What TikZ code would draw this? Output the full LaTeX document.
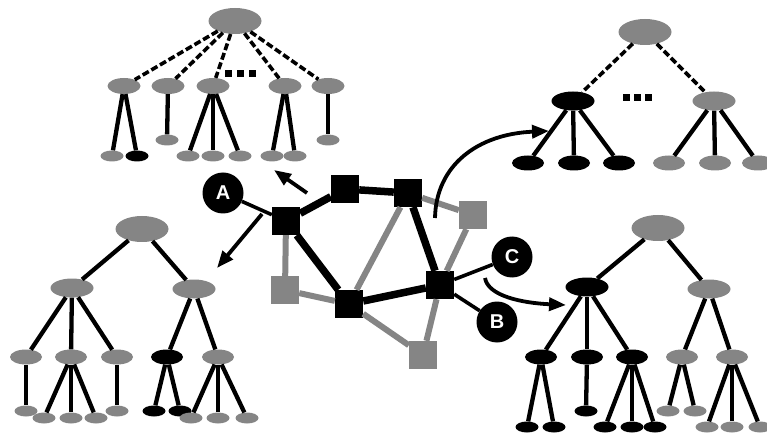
\documentclass[tikz,border=0pt]{standalone}
\usepackage{fontspec}
\setmainfont{Liberation Sans}
\usetikzlibrary{shapes.geometric,arrows.meta}
\definecolor{halftone}{HTML}{858585}
\tikzset{
 gnode/.style={ellipse, fill=halftone, inner sep=0pt},
 bnode/.style={ellipse, fill=black, inner sep=0pt},
 rootsz/.style={minimum width=53pt, minimum height=26pt},
 midsz/.style={minimum width=43pt, minimum height=19pt},
 lowsz/.style={minimum width=32pt, minimum height=15pt},
 leafsz/.style={minimum width=23pt, minimum height=11pt},
 tlsz/.style={minimum width=33pt, minimum height=16pt},
 tleafsz/.style={minimum width=23pt, minimum height=11pt},
 tedge/.style={line width=4.3pt},
 dedge/.style={line width=3.6pt, dash pattern=on 7pt off 3pt},
 bsq/.style={rectangle, fill=black, minimum size=28pt, inner sep=0pt},
 gsq/.style={rectangle, fill=halftone, minimum size=28pt, inner sep=0pt},
 thickl/.style={line width=7.5pt},
 greyl/.style={line width=6pt, draw=halftone},
 thinl/.style={line width=3.6pt},
 lettercirc/.style={circle, fill=black, minimum size=41pt, inner sep=0pt, text=white, font=\fontsize{20}{20}\selectfont\bfseries},
 dotsq/.style={rectangle, fill=black, minimum size=7pt, inner sep=0pt},
 arr/.style={line width=3.8pt, -{Triangle[length=17pt,width=13pt]}},
}
\begin{document}
\begin{tikzpicture}[x=1pt,y=-1pt]
\useasboundingbox (0,0) rectangle (767,435);

% ---------- top-left tree ----------
\node[gnode,rootsz] (tlr) at (235,21) {};
\node[gnode,tlsz] (tla) at (124,86) {};
\node[gnode,tlsz] (tlb) at (168,86) {};
\node[gnode,tlsz] (tlc) at (213,86) {};
\node[gnode,tlsz] (tld) at (285,86) {};
\node[gnode,tlsz] (tle) at (328,86) {};
\node[gnode,tleafsz] (tla1) at (112,156) {};
\node[bnode,tleafsz] (tla2) at (137,156) {};
\node[gnode,tleafsz] (tlb1) at (167,140) {};
\node[gnode,tleafsz] (tlc1) at (188,156) {};
\node[gnode,tleafsz] (tlc2) at (213,156) {};
\node[gnode,tleafsz] (tlc3) at (240,156) {};
\node[gnode,tleafsz] (tld1) at (272,156) {};
\node[gnode,tleafsz] (tld2) at (295,156) {};
\node[gnode,tleafsz] (tle1) at (328,140) {};
\node[dotsq] (tldot1) at (228,74) {};
\node[dotsq] (tldot2) at (240,74) {};
\node[dotsq] (tldot3) at (252,74) {};
\foreach \c in {tla,tlb,tlc,tld,tle} \draw[dedge] (tlr) -- (\c);
\draw[tedge] (tla) -- (tla1);
\draw[tedge] (tla) -- (tla2);
\draw[tedge] (tlb) -- (tlb1);
\draw[tedge] (tlc) -- (tlc1);
\draw[tedge] (tlc) -- (tlc2);
\draw[tedge] (tlc) -- (tlc3);
\draw[tedge] (tld) -- (tld1);
\draw[tedge] (tld) -- (tld2);
\draw[tedge] (tle) -- (tle1);

% ---------- top-right tree ----------
\node[gnode,rootsz] (trr) at (645,32) {};
\node[bnode,midsz] (tra) at (573,101) {};
\node[gnode,midsz] (trb) at (714,101) {};
\node[bnode,lowsz] (tra1) at (528,163) {};
\node[bnode,lowsz] (tra2) at (574,163) {};
\node[bnode,lowsz] (tra3) at (619,163) {};
\node[gnode,lowsz] (trb1) at (669,163) {};
\node[gnode,lowsz] (trb2) at (715,163) {};
\node[gnode,lowsz] (trb3) at (758,163) {};
\node[dotsq] (trdot1) at (626,98) {};
\node[dotsq] (trdot2) at (637,98) {};
\node[dotsq] (trdot3) at (648,98) {};
\draw[dedge] (trr) -- (tra);
\draw[dedge] (trr) -- (trb);
\foreach \c in {tra1,tra2,tra3} \draw[tedge] (tra) -- (\c);
\foreach \c in {trb1,trb2,trb3} \draw[tedge] (trb) -- (\c);

% ---------- bottom-left tree ----------
\node[gnode,rootsz] (blr) at (142,229) {};
\node[gnode,midsz] (bla) at (72,288) {};
\node[gnode,midsz] (blb) at (194,289) {};
\node[gnode,lowsz] (bl1) at (26,357) {};
\node[gnode,lowsz] (bl2) at (71,357) {};
\node[gnode,lowsz] (bl3) at (117,357) {};
\node[bnode,lowsz] (bl4) at (167,357) {};
\node[gnode,lowsz] (bl5) at (218,357) {};
\node[gnode,leafsz] (bl1a) at (26,411) {};
\node[gnode,leafsz] (bl2a) at (44,418) {};
\node[gnode,leafsz] (bl2b) at (71,418) {};
\node[gnode,leafsz] (bl2c) at (96,418) {};
\node[gnode,leafsz] (bl3a) at (117,411) {};
\node[bnode,leafsz] (bl4a) at (154,411) {};
\node[bnode,leafsz] (bl4b) at (180,411) {};
\node[gnode,leafsz] (bl5a) at (191,418) {};
\node[gnode,leafsz] (bl5b) at (218,418) {};
\node[gnode,leafsz] (bl5c) at (247,418) {};
\draw[tedge] (blr) -- (bla);
\draw[tedge] (blr) -- (blb);
\foreach \c in {bl1,bl2,bl3} \draw[tedge] (bla) -- (\c);
\foreach \c in {bl4,bl5} \draw[tedge] (blb) -- (\c);
\draw[tedge] (bl1) -- (bl1a);
\foreach \c in {bl2a,bl2b,bl2c} \draw[tedge] (bl2) -- (\c);
\draw[tedge] (bl3) -- (bl3a);
\foreach \c in {bl4a,bl4b} \draw[tedge] (bl4) -- (\c);
\foreach \c in {bl5a,bl5b,bl5c} \draw[tedge] (bl5) -- (\c);

% ---------- bottom-right tree ----------
\node[gnode,rootsz] (brr) at (658,228) {};
\node[bnode,midsz] (bra) at (587,287) {};
\node[gnode,midsz] (brb) at (709,289) {};
\node[bnode,lowsz] (br1) at (541,357) {};
\node[bnode,lowsz] (br2) at (587,357) {};
\node[bnode,lowsz] (br3) at (632,357) {};
\node[gnode,lowsz] (br4) at (682,357) {};
\node[gnode,lowsz] (br5) at (732,357) {};
\node[bnode,leafsz] (br1a) at (527,427) {};
\node[bnode,leafsz] (br1b) at (554,427) {};
\node[bnode,leafsz] (br2a) at (586,411) {};
\node[bnode,leafsz] (br3a) at (605,427) {};
\node[bnode,leafsz] (br3b) at (632,427) {};
\node[bnode,leafsz] (br3c) at (655,427) {};
\node[gnode,leafsz] (br4a) at (668,411) {};
\node[gnode,leafsz] (br4b) at (695,411) {};
\node[gnode,leafsz] (br5a) at (707,427) {};
\node[gnode,leafsz] (br5b) at (732,427) {};
\node[gnode,leafsz] (br5c) at (760,427) {};
\draw[tedge] (brr) -- (bra);
\draw[tedge] (brr) -- (brb);
\foreach \c in {br1,br2,br3} \draw[tedge] (bra) -- (\c);
\foreach \c in {br4,br5} \draw[tedge] (brb) -- (\c);
\foreach \c in {br1a,br1b} \draw[tedge] (br1) -- (\c);
\draw[tedge] (br2) -- (br2a);
\foreach \c in {br3a,br3b,br3c} \draw[tedge] (br3) -- (\c);
\foreach \c in {br4a,br4b} \draw[tedge] (br4) -- (\c);
\foreach \c in {br5a,br5b,br5c} \draw[tedge] (br5) -- (\c);

% ---------- network ----------
\node[bsq] (n1) at (286,221) {};
\node[bsq] (n2) at (345,189) {};
\node[bsq] (n3) at (408,193) {};
\node[gsq] (g1) at (473,215) {};
\node[gsq] (g2) at (285,290) {};
\node[bsq] (n4) at (349,304) {};
\node[bsq] (n5) at (440,285) {};
\node[gsq] (g3) at (423,355) {};
\node[lettercirc] (A) at (223,193) {A};
\node[lettercirc] (C) at (512,257) {C};
\node[lettercirc] (B) at (497,322) {B};

\draw[greyl] (n3) -- (g1);
\draw[greyl] (n3) -- (n4);
\draw[greyl] (n1) -- (g2);
\draw[greyl] (g2) -- (n4);
\draw[greyl] (n4) -- (g3);
\draw[greyl] (n5) -- (g3);
\draw[greyl] (n5) -- (g1);
\draw[thickl] (n1) -- (n2);
\draw[thickl] (n2) -- (n3);
\draw[thickl] (n3) -- (n5);
\draw[thickl] (n1) -- (n4);
\draw[thickl] (n4) -- (n5);
\draw[thinl] (A) -- (n1);
\draw[thinl] (n5) -- (C);
\draw[thinl] (n5) -- (B);

% ---------- arrows ----------
\coordinate (a1s) at (262,214);
\coordinate (a1e) at (217,268);
\coordinate (a2s) at (307,193);
\coordinate (a2e) at (274,170);
\coordinate (a3s) at (435,218);
\coordinate (a3e) at (549,131);
\coordinate (a4s) at (485,278);
\coordinate (a4e) at (566,305);
\draw[arr] (a1s) -- (a1e);
\draw[arr] (a2s) -- (a2e);
\draw[arr] (a3s) .. controls (436,165) and (478,134) .. (a3e);
\draw[arr] (a4s) .. controls (488,296) and (522,303) .. (a4e);
\end{tikzpicture}
\end{document}
